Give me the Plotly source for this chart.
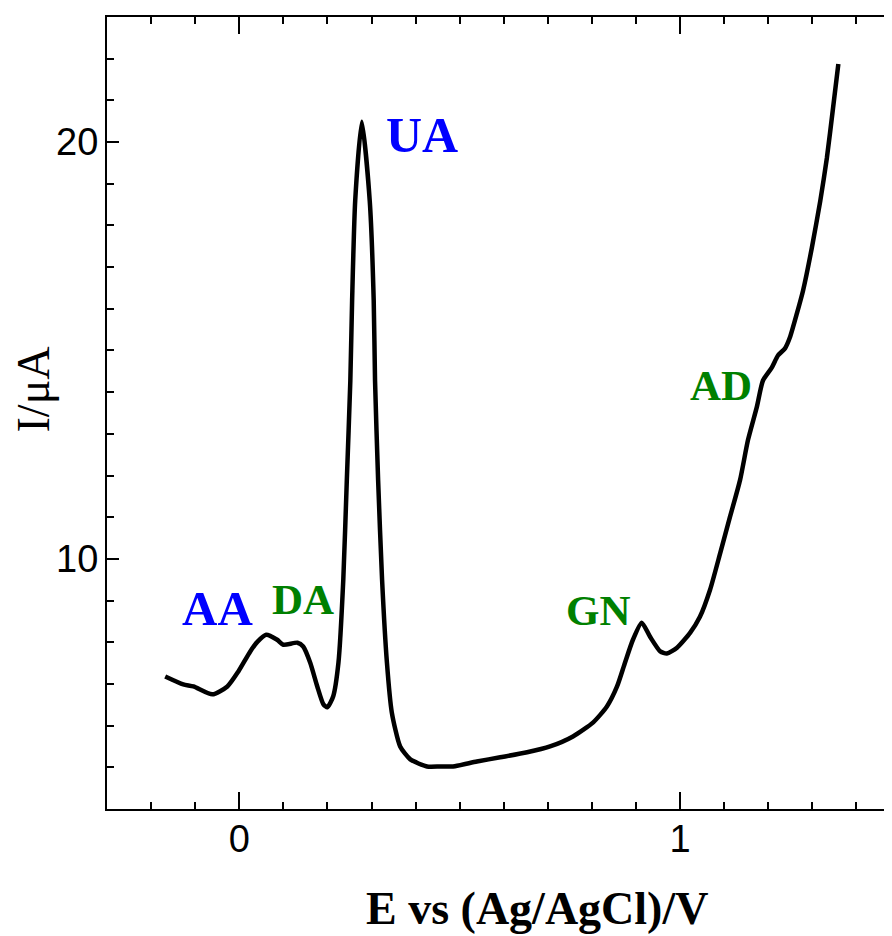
import plotly.graph_objects as go

# Potential (V vs Ag/AgCl)
potential = [-0.168, -0.127, -0.104, -0.061, -0.027, -0.002, 0.025, 0.041, 0.061, 0.086,
             0.100, 0.132, 0.145, 0.161, 0.177, 0.191, 0.200, 0.213, 0.225, 0.236,
             0.244, 0.252, 0.256, 0.263, 0.278, 0.296, 0.305, 0.308, 0.315, 0.324,
             0.335, 0.346, 0.365, 0.388, 0.426, 0.456, 0.485, 0.539, 0.592, 0.653,
             0.705, 0.757, 0.803, 0.834, 0.857, 0.875, 0.893, 0.913, 0.932, 0.955,
             0.970, 0.993, 1.023, 1.045, 1.068, 1.091, 1.113, 1.136, 1.154, 1.174,
             1.188, 1.208, 1.222, 1.238, 1.249, 1.265, 1.279, 1.299, 1.318, 1.333,
             1.347, 1.359]
# Current (uA)
current = [7.18, 6.99, 6.94, 6.75, 6.94, 7.30, 7.78, 8.01, 8.18, 8.06,
           7.94, 7.99, 7.90, 7.51, 6.94, 6.51, 6.44, 6.70, 7.51, 9.50,
           11.89, 14.28, 16.20, 18.59, 20.49, 18.59, 16.20, 14.28, 11.89, 9.50,
           7.51, 6.32, 5.50, 5.19, 5.02, 5.02, 5.02, 5.14, 5.24, 5.36,
           5.50, 5.74, 6.08, 6.46, 6.94, 7.51, 8.06, 8.47, 8.13, 7.78,
           7.73, 7.87, 8.23, 8.61, 9.26, 10.14, 11.00, 11.89, 12.85, 13.64,
           14.28, 14.59, 14.88, 15.05, 15.31, 15.89, 16.44, 17.47, 18.59, 19.62,
           20.82, 21.87]

peak_labels = ["AA", "DA", "UA", "GN", "AD"]
peak_colors = ["#0000ff", "#008000", "#0000ff", "#008000", "#008000"]
label_x = [-0.05, 0.145, 0.414, 0.814, 1.093]
label_y = [8.82, 9.03, 20.18, 8.77, 14.17]
label_size = [49, 43, 50, 43, 43]

x_ticks = [0, 1]
y_ticks = [10, 20]

fig = go.Figure()
fig.add_trace(go.Scatter(x=potential, y=current, mode="lines",
                         line=dict(color="black", width=4.5, shape="spline", smoothing=0.6),
                         showlegend=False, hoverinfo="skip"))
fig.add_trace(go.Scatter(x=[None], y=[None], yaxis="y2", showlegend=False))

for t, c, x, y, s in zip(peak_labels, peak_colors, label_x, label_y, label_size):
    fig.add_annotation(x=x, y=y, text=f"<b>{t}</b>", showarrow=False,
                       font=dict(family="Liberation Serif", size=s, color=c),
                       xanchor="center", yanchor="middle")

fig.add_annotation(xref="paper", yref="paper", x=0.548, y=-0.126,
                   text="<b>E vs (Ag/AgCl)/V</b>", showarrow=False,
                   font=dict(family="Liberation Serif", size=46, color="black"),
                   xanchor="center", yanchor="middle")
fig.add_annotation(xref="paper", yref="paper", x=-0.094, y=0.53,
                   text="I/μA", showarrow=False, textangle=-90,
                   font=dict(family="Liberation Serif", size=46, color="black"),
                   xanchor="center", yanchor="middle")

fig.update_layout(
    width=884, height=928,
    margin=dict(l=99, r=0, t=9, b=127),
    plot_bgcolor="white", paper_bgcolor="white",
    xaxis=dict(range=[-0.3, 1.4807], tickvals=x_ticks, ticktext=[str(v) for v in x_ticks],
               ticks="inside", ticklen=17, tickwidth=2, tickcolor="black",
               showline=True, linewidth=2, linecolor="black", mirror="ticks",
               showgrid=False, zeroline=False, ticklabelstandoff=-5,
               tickfont=dict(family="Liberation Sans", size=38, color="black"),
               minor=dict(dtick=0.1, tick0=0, ticks="inside", ticklen=7, tickwidth=2,
                          tickcolor="black", showgrid=False)),
    yaxis=dict(range=[4, 23], tickvals=y_ticks, ticktext=[str(v) for v in y_ticks],
               ticks="inside", ticklen=12, tickwidth=2, tickcolor="black",
               showline=True, linewidth=2, linecolor="black", mirror=False,
               showgrid=False, zeroline=False, ticklabelstandoff=-1,
               tickfont=dict(family="Liberation Sans", size=38, color="black"),
               minor=dict(dtick=1, tick0=0, ticks="inside", ticklen=7, tickwidth=2,
                          tickcolor="black", showgrid=False)),
    yaxis2=dict(range=[4, 23], overlaying="y", side="right", tickvals=y_ticks,
                ticks="inside", ticklen=5, tickwidth=2, tickcolor="black",
                showticklabels=False, showline=False, showgrid=False, zeroline=False),
)

fig.write_html("out.html")
